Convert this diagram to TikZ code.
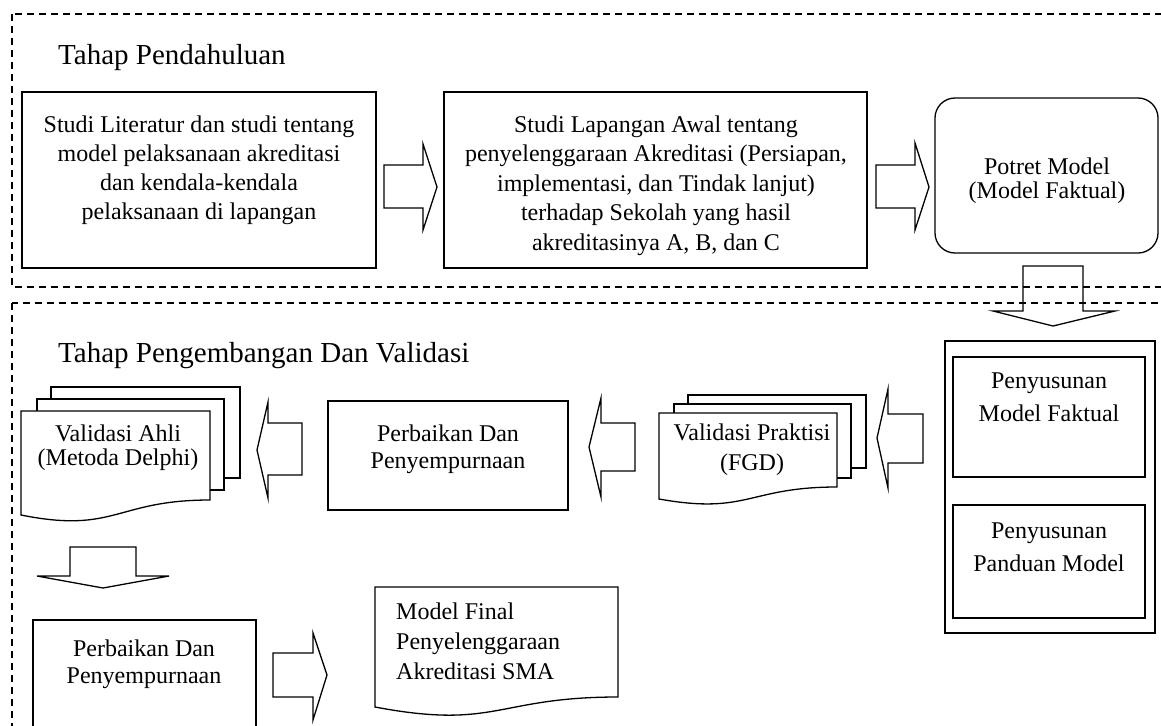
\documentclass[tikz,border=0pt]{standalone}
\usepackage{fontspec}
\setmainfont{Liberation Serif}
\newcommand\mydoc[7][]{%
  \draw[docline,#1] (#2,#3) -- (#4,#3) -- (#4,#5)
    .. controls ({(#2+#4)/2},#5) and ({(#2+#4)/2},#7) .. (#2,#6) -- cycle;}
\begin{document}
\begin{tikzpicture}[x=1pt,y=-1pt,
  frame/.style={line width=1.1pt, dash pattern=on 7pt off 5pt},
  boxline/.style={line width=1.3pt},
  thick box/.style={line width=1.9pt},
  docline/.style={line width=1.3pt, fill=white},
  blk/.style={line width=1.3pt, line join=miter},
  tx/.style={inner sep=0pt, align=center, anchor=north, font=\fontsize{24}{#1}\selectfont},
  tx/.default=29,
  ttl/.style={inner sep=0pt, anchor=base west, font=\fontsize{29}{33}\selectfont}]
\useasboundingbox (0,0) rectangle (1161,725);
\clip (0,0) rectangle (1161,725);
% dashed frames
\draw[frame] (12,14) rectangle (1190,287);
\draw[frame] (12,303) rectangle (1190,760);
% titles
\node[ttl] (t1) at (58,64) {Tahap Pendahuluan};
\node[ttl] (t2) at (58,362) {Tahap Pengembangan Dan Validasi};
% top row
\draw[boxline] (22,92) rectangle (376,268);
\node[tx] (b1) at (199,115.5) {Studi Literatur dan studi tentang\\model pelaksanaan akreditasi\\dan kendala-kendala\\pelaksanaan di lapangan};
\draw[boxline] (444,92) rectangle (867,268);
\node[tx=29.5] (b2) at (656,115.5) {Studi Lapangan Awal tentang\\penyelenggaraan Akreditasi (Persiapan,\\implementasi, dan Tindak lanjut)\\terhadap Sekolah yang hasil\\akreditasinya A, B, dan C};
\draw[boxline, rounded corners=20pt] (935,98) rectangle (1158,253);
\node[tx=24] (pm) at (1047,158) {Potret Model\\(Model Faktual)};
% block arrows top
\draw[blk] (384,165) -- (423,165) -- (423,144) -- (437,187) -- (423,230) -- (423,208) -- (384,208) -- cycle;
\draw[blk] (876,165) -- (915,165) -- (915,143) -- (929,187) -- (915,230) -- (915,208) -- (876,208) -- cycle;
\draw[blk] (1023,266) -- (1083,266) -- (1083,311) -- (1115,311) -- (1053,326) -- (993,311) -- (1023,311) -- cycle;
% right panel
\draw[boxline] (945,341) rectangle (1155,633);
\draw[thick box] (953,357) rectangle (1145,477);
\node[tx=33] (pf) at (1049,373) {Penyusunan\\Model Faktual};
\draw[thick box] (953,505) rectangle (1145,618);
\node[tx=33] (pp) at (1049,523) {Penyusunan\\Panduan Model};
% arrow into FGD
\draw[blk] (923,414) -- (888,414) -- (888,389) -- (877,438) -- (888,488) -- (888,463) -- (923,463) -- cycle;
% FGD multi document
\draw[docline] (688,395) rectangle (866,468);
\draw[docline] (674,404) rectangle (851,478);
\mydoc{659}{413}{837}{487}{499}{515}
\node[tx=30] (fgd) at (752,424) {Validasi Praktisi\\(FGD)};
% arrow FGD -> Perbaikan
\draw[blk] (635,423) -- (601,423) -- (601,398) -- (589,447) -- (601,497) -- (601,471) -- (635,471) -- cycle;
% middle Perbaikan
\draw[boxline] (328,401) rectangle (568,510);
\node[tx=27] (pd1) at (448,425) {Perbaikan Dan\\Penyempurnaan};
% arrow Perbaikan -> Ahli
\draw[blk] (302,423) -- (268,423) -- (268,402) -- (257,450) -- (268,498) -- (268,475) -- (302,475) -- cycle;
% Ahli multi document
\draw[docline] (51,387) rectangle (240,478);
\draw[docline] (37,399) rectangle (224,490);
\mydoc{21}{411}{210}{500}{515}{534}
\node[tx=24] (ahli) at (118,425) {Validasi Ahli\\(Metoda Delphi)};
% down arrow
\draw[blk] (70,547) -- (136,547) -- (136,576) -- (169,576) -- (103,588) -- (37,576) -- (70,576) -- cycle;
% bottom Perbaikan
\draw[boxline] (33,620) rectangle (256,760);
\node[tx=27] (pd2) at (144,640) {Perbaikan Dan\\Penyempurnaan};
% right arrow
\draw[blk] (273,653) -- (313,653) -- (313,633) -- (327,675) -- (313,720) -- (313,697) -- (273,697) -- cycle;
% Model final
\mydoc{375}{587}{618}{697}{707}{730}
\node[tx=30, anchor=north west, align=left] (mf) at (396,603) {Model Final\\Penyelenggaraan\\Akreditasi SMA};
\end{tikzpicture}
\end{document}
